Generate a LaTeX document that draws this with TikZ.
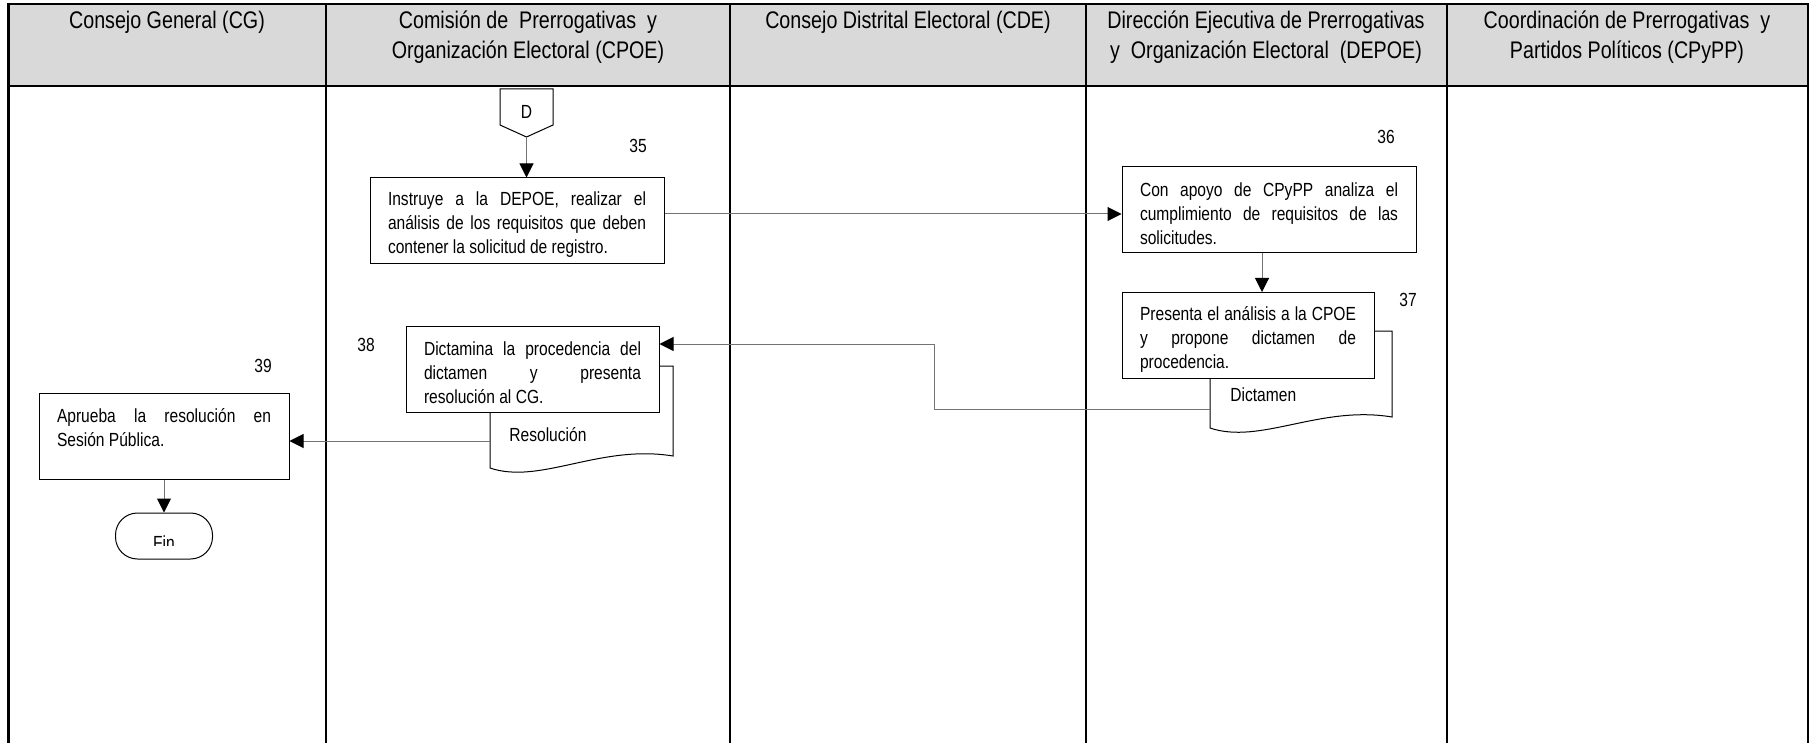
\documentclass[tikz,border=0pt]{standalone}
\usepackage{fontspec}
\setmainfont{Liberation Sans}[FakeStretch=0.82]
\usetikzlibrary{arrows.meta,calc}
\begin{document}
\begin{tikzpicture}[x=0.5pt,y=-0.5pt,
  lane/.style={line width=1.1pt,draw=black},
  hdr/.style={anchor=base,inner sep=0pt,font=\fontsize{12}{15}\selectfont},
  stepbox/.style={draw=black,line width=0.5pt,fill=white,align=justify,inner xsep=9pt,inner ysep=0pt,font=\fontsize{9.5}{12}\selectfont,minimum height=43pt,execute at end node={\endgraf\vspace*{-3.5pt}}},
  num/.style={font=\fontsize{9.5}{12}\selectfont},
  conn/.style={draw=gray!90!black,line width=0.5pt,-{Triangle[length=7pt,width=7pt,color=black]}},
  docshape/.style={draw=black,line width=0.5pt,fill=white},
  doctext/.style={anchor=west,inner sep=0pt,font=\fontsize{9.5}{12}\selectfont},
]
\useasboundingbox (0,0) rectangle (1815,743);
% header band
\fill[gray!30] (8.5,4) rectangle (1808,86);
\draw[lane] (8.5,743) -- (8.5,4) -- (1808,4) -- (1808,743);
\draw[lane] (8.5,86) -- (1808,86);
\foreach \x in {326,730,1086,1447} \draw[lane] (\x,4) -- (\x,743);
% header texts
\node[hdr] (h1)  at (167,28.5) {Consejo General (CG)};
\node[hdr] (h2a) at (528,28.5) {Comisión de\ \ Prerrogativas\ \ y};
\node[hdr] (h2b) at (528,58.5) {Organización Electoral (CPOE)};
\node[hdr] (h3)  at (908,28.5) {Consejo Distrital Electoral (CDE)};
\node[hdr] (h4a) at (1266,28.5) {Dirección Ejecutiva de Prerrogativas};
\node[hdr] (h4b) at (1266,58.5) {y\ \ Organización Electoral\ \ (DEPOE)};
\node[hdr] (h5a) at (1627,28.5) {Coordinación de Prerrogativas\ \ y};
\node[hdr] (h5b) at (1627,58.5) {Partidos Políticos (CPyPP)};

% off-page connector D
\draw[line width=0.5pt] (500,89) -- (553,89) -- (553,125) -- (526.5,137) -- (500,125) -- cycle;
\node[num] (D) at (526.5,112) {D};
\coordinate (Dtip) at (526.5,137);

% documents (drawn before boxes so the boxes cover their tops)
\draw[docshape] (1210,331) -- (1392,331) -- (1392,417) .. controls (1320,405) and (1260,445) .. (1210,428) -- cycle;
\node[doctext] (dictxt) at (1230,395) {Dictamen};
\coordinate (dicL) at (1210,409);

\draw[docshape] (490,366) -- (673,366) -- (673,456) .. controls (600,444) and (540,485) .. (490,468) -- cycle;
\node[doctext] (restxt) at (509,435) {Resolución};
\coordinate (resL) at (490,441);

% process boxes
\node[stepbox,text width=129pt] (b35) at (517,221)
  {Instruye a la DEPOE, realizar el\linebreak análisis de los requisitos que deben\linebreak contener la solicitud de registro.};
\node[stepbox,text width=129pt] (b36) at (1269,210)
  {Con apoyo de CPyPP analiza el\linebreak cumplimiento de requisitos de las\linebreak solicitudes.};
\node[stepbox,text width=108pt] (b37) at (1248,335.5)
  {Presenta el análisis a la CPOE\linebreak y propone dictamen de\linebreak procedencia.};
\node[stepbox,text width=108.5pt] (b38) at (532.5,369)
  {Dictamina la procedencia del\linebreak dictamen y presenta\linebreak resolución al CG.};
\node[stepbox,text width=107pt] (b39) at (164,436)
  {Aprueba la resolución en\linebreak Sesión Pública.\par\mbox{}};

% numbers
\node[num] (n35) at (638,146) {35};
\node[num] (n36) at (1386,137) {36};
\node[num] (n37) at (1408,300) {37};
\node[num] (n38) at (366,345) {38};
\node[num] (n39) at (263,366) {39};

% terminal Fin
\node[draw=black,line width=0.5pt,rounded corners=11pt,minimum width=48.5pt,minimum height=23pt,inner sep=0pt] (fin) at (164,536) {};
\begin{scope}
  \clip (117,513) rectangle (214,545);
  \node[anchor=base,inner sep=0pt,font=\fontsize{9.5}{12}\selectfont] (fintxt) at (164,549) {Fin};
\end{scope}

% connectors
\draw[conn] (Dtip) -- (Dtip |- b35.north);
\draw[conn] (b35.east |- 0,214) -- (b36.west |- 0,214);
\coordinate (a36) at (b36.south -| 1262,0);
\draw[conn] (a36) -- (a36 |- b37.north);
\draw[conn] (dicL) -- (934,409) -- (934,344) -- (b38.east |- 0,344);
\draw[conn] (resL) -- (resL -| b39.east);
\draw[conn] (b39.south) -- (fin.north);
\end{tikzpicture}
\end{document}
